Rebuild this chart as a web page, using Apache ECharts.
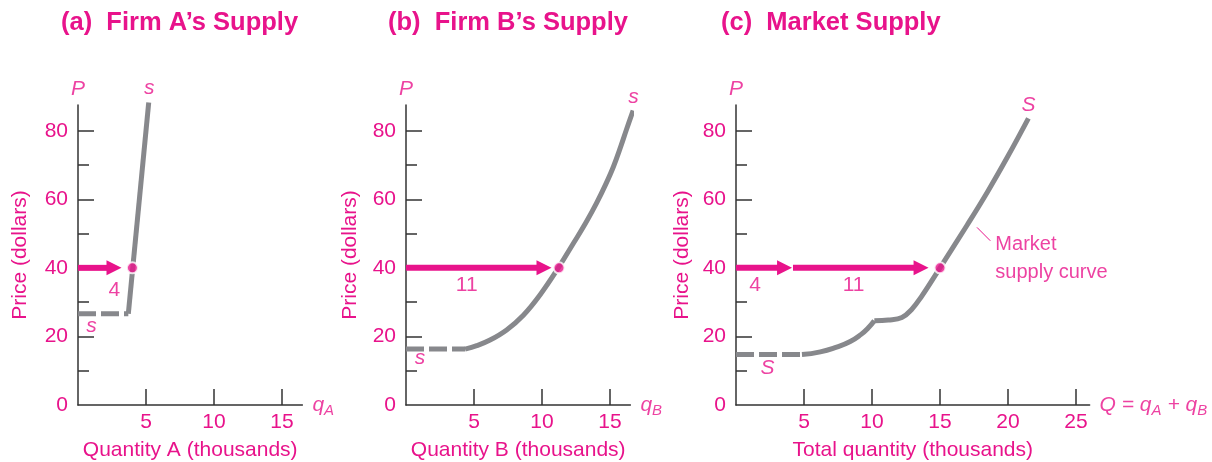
<!DOCTYPE html>
<html><head><meta charset="utf-8">
<script src="https://cdn.jsdelivr.net/npm/echarts@6/dist/echarts.min.js"></script>
<style>html,body{margin:0;padding:0;background:#fff}#c{width:1212px;height:462px}</style>
</head><body><div id="c"></div>
<script>
const PINK = '#E8138B', GRAY = '#87888C', AXIS = '#333333';
const FONT = '"Liberation Sans", Arial, Helvetica, sans-serif';

// ---- text ----
const titles = ['(a)  Firm A\u2019s Supply', '(b)  Firm B\u2019s Supply', '(c)  Market Supply'];
const xNames = ['Quantity A (thousands)', 'Quantity B (thousands)', 'Total quantity (thousands)'];
const yName = 'Price (dollars)';
const qNames = ['{i|q}{s|A}', '{i|q}{s|B}', '{i|Q}{r| = }{i|q}{s|A}{r| + }{i|q}{s|B}'];

// ---- axes ----
const xTicks = [[5, 10, 15], [5, 10, 15], [5, 10, 15, 20, 25]];
const xMax = [16.5, 16.5, 26];
const yLabelTicks = [0, 20, 40, 60, 80];
const yMajorTicks = [20, 40, 60, 80];
const yMinorTicks = [10, 30, 50, 70];
const yMax = 87.5;

// ---- supply curves (quantity thousands, price $) ----
const aDashed = [[0, 26.6], [3.7, 26.6]];
const aSolid = [[3.7, 26.6], [5.2, 88.2]];
const bDashed = [[0, 16.3], [4.34, 16.3]];
const bSolid = [[4.34, 16.3], [5.2, 17.3], [6.18, 18.95], [7.4, 21.9], [8.63, 26.2], [9.85, 32.1], [11.2, 40], [12.3, 47.1], [13.2, 53.0], [14.0, 58.8], [14.7, 64.5], [15.25, 69.5], [15.8, 75.5], [16.2, 80.2], [16.7, 85.9]];
const cDashed = [[0, 14.7], [4.85, 14.7]];
const cSolid1 = [[4.85, 14.7], [6.2, 15.5], [7.4, 16.9], [8.4, 18.5], [9.2, 20.6], [9.7, 22.4], [10.17, 24.6]];
const cSolid2 = [[10.17, 24.6], [11.2, 24.8], [12.2, 25.5], [12.9, 27.8], [13.6, 31.4], [15, 40], [17, 52.5], [18.5, 62.2], [20, 72.6], [21.5, 83.6]];

// ---- price 40 points and quantity arrows ----
const equilibria = [[[4, 40]], [[11.25, 40]], [[15, 40]]];
const arrows = [[[0, 3.2, 40]], [[0, 10.7, 40]], [[0, 4.12, 40], [4.19, 14.16, 40]]];
const qtyLabels = [[[2.67, 33.5, '4']], [[4.46, 35, '11']], [[1.4, 35, '4'], [8.65, 35, '11']]];
const curveLabels = [[[5.24, 92.3, 's'], [1.0, 23, 's']], [[16.72, 89.7, 's'], [1.03, 13.6, 's']], [[21.5, 87.5, 'S'], [2.32, 10.7, 'S']]];
const marketNote = [19.07, 42.6, 'Market\nsupply curve'];
const marketLeader = [[17.72, 51.8], [18.7, 47.9]];

const grids = [
  { left: 78, top: 105, width: 16.5 * 13.6, height: 300, outerBoundsMode: 'none', containLabel: false },
  { left: 406, top: 105, width: 16.5 * 13.6, height: 300, outerBoundsMode: 'none', containLabel: false },
  { left: 736, top: 105, width: 26 * 13.6, height: 300, outerBoundsMode: 'none', containLabel: false }
];
const titleLeft = [61, 388, 721];
const yNameGap = [47, 45, 43];

const chart = echarts.init(document.getElementById('c'), null, { renderer: 'canvas' });

const xAxis = [], yAxis = [], series = [], title = [];
const txt = { color: PINK, fontFamily: FONT, fontSize: 21 };

for (let g = 0; g < 3; g++) {
  title.push({ text: titles[g], left: titleLeft[g], top: 10, padding: 0,
    textStyle: { color: PINK, fontFamily: FONT, fontSize: 25.5, fontWeight: 'bold' } });
  xAxis.push({
    type: 'value', gridIndex: g, min: 0, max: xMax[g], position: 'bottom',
    axisLine: { show: true, lineStyle: { color: AXIS, width: 1.5 } },
    axisTick: { show: true, inside: true, length: 16, customValues: xTicks[g], lineStyle: { color: AXIS, width: 1.5 } },
    axisLabel: { customValues: xTicks[g], margin: 7, ...txt },
    splitLine: { show: false },
    name: xNames[g], nameLocation: 'middle', nameGap: 35, nameTextStyle: { ...txt }
  });
  yAxis.push({
    type: 'value', gridIndex: g, min: 0, max: yMax, position: 'left',
    axisLine: { show: true, lineStyle: { color: AXIS, width: 1.5 } },
    axisTick: { show: true, inside: true, length: 16, customValues: yMajorTicks, lineStyle: { color: AXIS, width: 1.5 } },
    axisLabel: { customValues: yLabelTicks, margin: 10, ...txt },
    splitLine: { show: false },
    name: yName, nameLocation: 'middle', nameGap: yNameGap[g], nameTextStyle: { ...txt }
  });
  yAxis.push({
    type: 'value', gridIndex: g, min: 0, max: yMax, position: 'left', offset: 0,
    axisLine: { show: false },
    axisTick: { show: true, inside: true, length: 11, customValues: yMinorTicks, lineStyle: { color: AXIS, width: 1.5 } },
    axisLabel: { show: false }, splitLine: { show: false }
  });
}

function line(g, data, opts) {
  return Object.assign({
    type: 'line', xAxisIndex: g, yAxisIndex: g * 2, data: data, symbol: 'none', clip: false,
    lineStyle: { color: GRAY, width: 5, cap: 'butt', join: 'round' }, silent: true, z: 3
  }, opts || {});
}
const dashed = { lineStyle: { color: GRAY, width: 5, type: [18, 5], cap: 'butt' } };

series.push(line(0, aDashed, dashed), line(0, aSolid));
series.push(line(1, bDashed, dashed), line(1, bSolid, { smooth: 0.4 }));
series.push(line(2, cDashed, dashed), line(2, cSolid1, { smooth: 0.5 }), line(2, cSolid2, { smooth: 0.4 }));

for (let g = 0; g < 3; g++) {
  // arrows
  series.push({
    type: 'custom', xAxisIndex: g, yAxisIndex: g * 2, data: arrows[g], silent: true, z: 4, clip: false,
    encode: { x: [0, 1], y: 2 },
    renderItem: function (params, api) {
      const p0 = api.coord([api.value(0), api.value(2)]);
      const p1 = api.coord([api.value(1), api.value(2)]);
      const hl = 15, hw = 7.5;
      return { type: 'group', children: [
        { type: 'rect', shape: { x: p0[0], y: p0[1] - 3, width: p1[0] - hl - p0[0] + 1, height: 6 }, style: { fill: PINK } },
        { type: 'polygon', shape: { points: [[p1[0], p1[1]], [p1[0] - hl, p1[1] - hw], [p1[0] - hl, p1[1] + hw]] }, style: { fill: PINK } }
      ] };
    }
  });
  // equilibrium dot
  series.push({
    type: 'scatter', xAxisIndex: g, yAxisIndex: g * 2, data: equilibria[g], symbol: 'circle', symbolSize: 11, z: 6, silent: true,
    itemStyle: { color: PINK, borderColor: '#fff', borderWidth: 2 }
  });
  // quantity labels
  series.push({
    type: 'scatter', xAxisIndex: g, yAxisIndex: g * 2, symbolSize: 0, silent: true, clip: false, z: 7,
    data: qtyLabels[g].map(d => ({ value: [d[0], d[1]], name: d[2] })),
    label: { show: true, position: 'inside', formatter: '{b}', ...txt }
  });
  // curve labels s / S
  series.push({
    type: 'scatter', xAxisIndex: g, yAxisIndex: g * 2, symbolSize: 0, silent: true, clip: false, z: 7,
    data: curveLabels[g].map(d => ({ value: [d[0], d[1]], name: d[2] })),
    label: { show: true, position: 'inside', formatter: '{b}', ...txt, fontStyle: 'italic' }
  });
  // P and q axis end labels
  series.push({
    type: 'scatter', xAxisIndex: g, yAxisIndex: g * 2, symbolSize: 0, silent: true, clip: false, z: 7,
    data: [{ value: [0, yMax], name: 'P', label: { position: 'top', distance: 5 } },
           { value: [xMax[g], 0], name: qNames[g], label: { position: 'right', distance: 10 } }],
    label: {
      show: true, formatter: '{b}', ...txt, fontStyle: 'italic',
      rich: {
        i: { ...txt, fontStyle: 'italic', verticalAlign: 'middle', lineHeight: 26 },
        r: { ...txt, verticalAlign: 'middle', lineHeight: 26 },
        s: { color: PINK, fontFamily: FONT, fontSize: 15, fontStyle: 'italic', verticalAlign: 'bottom', lineHeight: 26 }
      }
    }
  });
}
// market supply curve note
series.push(line(2, marketLeader, { lineStyle: { color: PINK, width: 1 }, z: 5 }));
series.push({
  type: 'scatter', xAxisIndex: 2, yAxisIndex: 4, symbolSize: 0, silent: true, clip: false, z: 7,
  data: [{ value: [marketNote[0], marketNote[1]], name: marketNote[2] }],
  label: { show: true, position: 'right', distance: 0, formatter: '{b}', ...txt, fontSize: 20, lineHeight: 28, align: 'left' }
});

chart.setOption({
  animation: false,
  backgroundColor: '#ffffff',
  title: title,
  grid: grids,
  xAxis: xAxis,
  yAxis: yAxis,
  series: series
});
</script>
</body></html>
